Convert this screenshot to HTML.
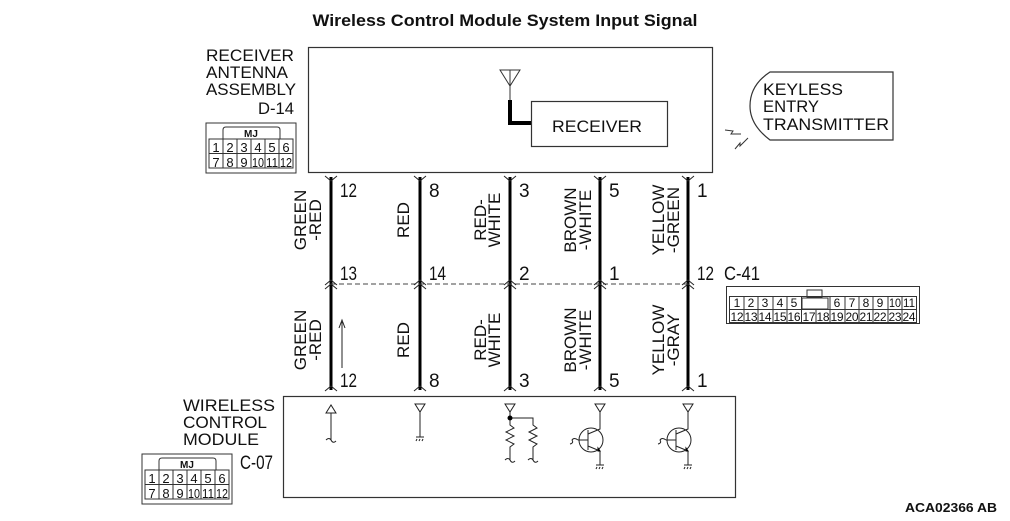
<!DOCTYPE html>
<html><head><meta charset="utf-8"><style>
html,body{margin:0;padding:0;background:#fff}
svg{display:block}
text{font-family:"Liberation Sans",sans-serif;fill:#111}
</style></head><body>
<svg width="1010" height="521" viewBox="0 0 1010 521" xmlns="http://www.w3.org/2000/svg">
<defs>
<g id="c12">
  <rect x="0" y="0" width="90" height="50" fill="none" stroke="#333" stroke-width="1"/>
  <path d="M17 16 V7 Q17 4 20 4 H71 Q74 4 74 7 V16" fill="none" stroke="#333"/>
  <rect x="3" y="16" width="84" height="29" fill="none" stroke="#333"/>
  <line x1="3" y1="30.5" x2="87" y2="30.5" stroke="#333"/>
  <line x1="17" y1="16" x2="17" y2="45" stroke="#333"/>
  <line x1="31" y1="16" x2="31" y2="45" stroke="#333"/>
  <line x1="45" y1="16" x2="45" y2="45" stroke="#333"/>
  <line x1="59" y1="16" x2="59" y2="45" stroke="#333"/>
  <line x1="73" y1="16" x2="73" y2="45" stroke="#333"/>
  <text x="45" y="14" font-size="10" text-anchor="middle" font-weight="bold">MJ</text>
  <g font-size="13" text-anchor="middle">
   <text x="10" y="29">1</text><text x="24" y="29">2</text><text x="38" y="29">3</text><text x="52" y="29">4</text><text x="66" y="29">5</text><text x="80" y="29">6</text>
   <text x="10" y="44">7</text><text x="24" y="44">8</text><text x="38" y="44">9</text><text x="52" y="44" textLength="12" lengthAdjust="spacingAndGlyphs">10</text><text x="66" y="44" textLength="12" lengthAdjust="spacingAndGlyphs">11</text><text x="80" y="44" textLength="12" lengthAdjust="spacingAndGlyphs">12</text>
  </g>
</g>
</defs>

<text x="505" y="26" font-size="17" font-weight="bold" text-anchor="middle" textLength="385" lengthAdjust="spacingAndGlyphs">Wireless Control Module System Input Signal</text>

<g font-size="17">
<text x="206" y="61" textLength="88" lengthAdjust="spacingAndGlyphs">RECEIVER</text>
<text x="206" y="78" textLength="82" lengthAdjust="spacingAndGlyphs">ANTENNA</text>
<text x="206" y="95" textLength="90" lengthAdjust="spacingAndGlyphs">ASSEMBLY</text>
<text x="258" y="114" textLength="36" lengthAdjust="spacingAndGlyphs">D-14</text>
</g>
<use href="#c12" x="206" y="123"/>
<rect x="308.5" y="47.5" width="404" height="125" fill="none" stroke="#333" stroke-width="1.2"/>
<path d="M500 70 L520 70 L510 86 Z M510 70 V100" fill="none" stroke="#333"/>
<path d="M510 100 V123 H531" fill="none" stroke="#000" stroke-width="4"/>
<rect x="531.5" y="101.5" width="136" height="45" fill="none" stroke="#333" stroke-width="1.2"/>
<text x="552" y="132" font-size="17" textLength="90" lengthAdjust="spacingAndGlyphs">RECEIVER</text>

<path d="M770 72 H893 V140 H770 Q750 125 750 106 Q750 85 770 72 Z" fill="none" stroke="#333" stroke-width="1.2"/>
<g font-size="17"><text x="763" y="95" textLength="80" lengthAdjust="spacingAndGlyphs">KEYLESS</text><text x="763" y="112" textLength="56" lengthAdjust="spacingAndGlyphs">ENTRY</text><text x="763" y="130" textLength="126" lengthAdjust="spacingAndGlyphs">TRANSMITTER</text></g>
<path d="M725 130 L733 131 L731 134 L741 134 M735 149 L740 143 L740 146 L748 138" fill="none" stroke="#333"/>

<g stroke="#000" stroke-width="3">
<line x1="331" y1="177" x2="331" y2="390"/><line x1="420" y1="177" x2="420" y2="390"/><line x1="510" y1="177" x2="510" y2="390"/><line x1="600" y1="177" x2="600" y2="390"/><line x1="688" y1="177" x2="688" y2="390"/>
</g>
<line x1="331" y1="284" x2="688" y2="284" stroke="#444" stroke-dasharray="5,3"/>
<g fill="none" stroke="#222" stroke-width="1">
<path d="M325 176 L331 181 L337 176 M414 176 L420 181 L426 176 M504 176 L510 181 L516 176 M594 176 L600 181 L606 176 M682 176 L688 181 L694 176"/>
<path d="M325 285 L331 280 L337 285 M414 285 L420 280 L426 285 M504 285 L510 280 L516 285 M594 285 L600 280 L606 285 M682 285 L688 280 L694 285"/>
<path d="M325 289 L331 284 L337 289 M414 289 L420 284 L426 289 M504 289 L510 284 L516 289 M594 289 L600 284 L606 289 M682 289 L688 284 L694 289"/>
<path d="M325 391 L331 386 L337 391 M414 391 L420 386 L426 391 M504 391 L510 386 L516 391 M594 391 L600 386 L606 391 M682 391 L688 386 L694 391"/>
<path d="M342 368 V322 M339 328 L342 320 L345 328"/>
</g>
<g font-size="19">
<text x="340" y="197" textLength="17" lengthAdjust="spacingAndGlyphs">12</text><text x="429" y="197">8</text><text x="519" y="197">3</text><text x="609" y="197">5</text><text x="697" y="197">1</text>
<text x="340" y="280" textLength="17" lengthAdjust="spacingAndGlyphs">13</text><text x="429" y="280" textLength="17" lengthAdjust="spacingAndGlyphs">14</text><text x="519" y="280">2</text><text x="609" y="280">1</text><text x="697" y="280" textLength="17" lengthAdjust="spacingAndGlyphs">12</text>
<text x="724" y="280" textLength="36" lengthAdjust="spacingAndGlyphs">C-41</text>
<text x="340" y="387" textLength="17" lengthAdjust="spacingAndGlyphs">12</text><text x="429" y="387">8</text><text x="519" y="387">3</text><text x="609" y="387">5</text><text x="697" y="387">1</text>
</g>
<g font-size="17" text-anchor="middle">
<text transform="translate(306,220) rotate(-90)">GREEN</text><text transform="translate(321,220) rotate(-90)">-RED</text>
<text transform="translate(409,220) rotate(-90)">RED</text>
<text transform="translate(486,220) rotate(-90)">RED-</text><text transform="translate(500,220) rotate(-90)">WHITE</text>
<text transform="translate(576,220) rotate(-90)">BROWN</text><text transform="translate(591,220) rotate(-90)">-WHITE</text>
<text transform="translate(664,220) rotate(-90)">YELLOW</text><text transform="translate(679,220) rotate(-90)">-GREEN</text>
<text transform="translate(306,340) rotate(-90)">GREEN</text><text transform="translate(321,340) rotate(-90)">-RED</text>
<text transform="translate(409,340) rotate(-90)">RED</text>
<text transform="translate(486,340) rotate(-90)">RED-</text><text transform="translate(500,340) rotate(-90)">WHITE</text>
<text transform="translate(576,340) rotate(-90)">BROWN</text><text transform="translate(591,340) rotate(-90)">-WHITE</text>
<text transform="translate(664,340) rotate(-90)">YELLOW</text><text transform="translate(679,340) rotate(-90)">-GRAY</text>
</g>

<g stroke="#333" fill="none">
<rect x="726.5" y="286.5" width="193" height="37"/>
<rect x="729.5" y="296.5" width="187" height="26"/>
<line x1="729.5" y1="309.5" x2="916.5" y2="309.5"/>
<rect x="807" y="290" width="15" height="7"/>
<rect x="802" y="298" width="26" height="11"/>
</g>
<g stroke="#333">
<path d="M744 296.5 V309 M758 296.5 V309 M773 296.5 V309 M787 296.5 V309 M801.5 296.5 V309 M830 296.5 V309 M845 296.5 V309 M859 296.5 V309 M873 296.5 V309 M888 296.5 V309 M902 296.5 V309"/>
<path d="M744 309 V322 M758 309 V322 M773 309 V322 M787 309 V322 M801.5 309 V322 M816 309 V322 M830 309 V322 M845 309 V322 M859 309 V322 M873 309 V322 M888 309 V322 M902 309 V322"/>
</g>
<g font-size="12" text-anchor="middle">
<text x="737" y="307">1</text><text x="751" y="307">2</text><text x="765" y="307">3</text><text x="780" y="307">4</text><text x="794" y="307">5</text>
<text x="837" y="307">6</text><text x="852" y="307">7</text><text x="866" y="307">8</text><text x="880" y="307">9</text><text x="895" y="307" textLength="12" lengthAdjust="spacingAndGlyphs">10</text><text x="909" y="307" textLength="12" lengthAdjust="spacingAndGlyphs">11</text>
</g>
<g font-size="12" text-anchor="middle" lengthAdjust="spacingAndGlyphs">
<text x="737" y="321" textLength="13">12</text><text x="751" y="321" textLength="13">13</text><text x="765" y="321" textLength="13">14</text><text x="780" y="321" textLength="13">15</text><text x="794" y="321" textLength="13">16</text><text x="809" y="321" textLength="13">17</text><text x="823" y="321" textLength="13">18</text><text x="837" y="321" textLength="13">19</text><text x="852" y="321" textLength="13">20</text><text x="866" y="321" textLength="13">21</text><text x="880" y="321" textLength="13">22</text><text x="895" y="321" textLength="13">23</text><text x="909" y="321" textLength="13">24</text>
</g>

<g font-size="17">
<text x="183" y="411" textLength="92" lengthAdjust="spacingAndGlyphs">WIRELESS</text>
<text x="183" y="428" textLength="84" lengthAdjust="spacingAndGlyphs">CONTROL</text>
<text x="183" y="445" textLength="76" lengthAdjust="spacingAndGlyphs">MODULE</text>
<text x="240" y="469" font-size="19" textLength="33" lengthAdjust="spacingAndGlyphs">C-07</text>
</g>
<use href="#c12" x="142" y="454"/>
<rect x="283.5" y="396.5" width="452" height="101" fill="none" stroke="#333" stroke-width="1.2"/>
<g fill="none" stroke="#222" stroke-width="1">
<path d="M326 413 L331 405 L336 413 Z M331 413 V440 Q329 437 326 440 M331 440 Q333 444 336 441"/>
<path d="M415 404 H425 L420 412 Z M420 412 V437 M416 437 H424 M417 439 L416 441 M420 439 L419 441 M423 439 L422 441"/>
<path d="M505 404 H515 L510 412 Z M510 412 V425 L514 428 L506 432 L514 436 L506 440 L514 444 L510 447 V460 Q508 457 505 460 M510 460 Q512 464 515 461"/>
<path d="M510 418 H533 V425 L537 428 L529 432 L537 436 L529 440 L537 444 L533 447 V460 Q531 457 528 460 M533 460 Q535 464 538 461"/>
<path d="M595 404 H605 L600 412 Z M600 412 V429 L588 434 M588 430 V450 M578 440 H588 M588 446 L600 451 V465 M596 465 H604 M597 467 L596 469 M600 467 L599 469 M603 467 L602 469"/>
<circle cx="591" cy="440" r="12"/>
<path d="M578 440 Q574 437 572 440 Q574 443 570 444"/>
<path d="M683 404 H693 L688 412 Z M688 412 V429 L676 434 M676 430 V450 M666 440 H676 M676 446 L688 451 V465 M684 465 H692 M685 467 L684 469 M688 467 L687 469 M691 467 L690 469"/>
<circle cx="679" cy="440" r="12"/>
<path d="M666 440 Q662 437 660 440 Q662 443 658 444"/>
</g>
<circle cx="510" cy="418" r="2.5" fill="#000"/>
<path d="M598 451 L600 451 L598 448 Z M686 451 L688 451 L686 448 Z" fill="#000" stroke="#000"/>

<text x="905" y="512" font-size="13" font-weight="bold" textLength="92" lengthAdjust="spacingAndGlyphs">ACA02366 AB</text>
</svg>
</body></html>
